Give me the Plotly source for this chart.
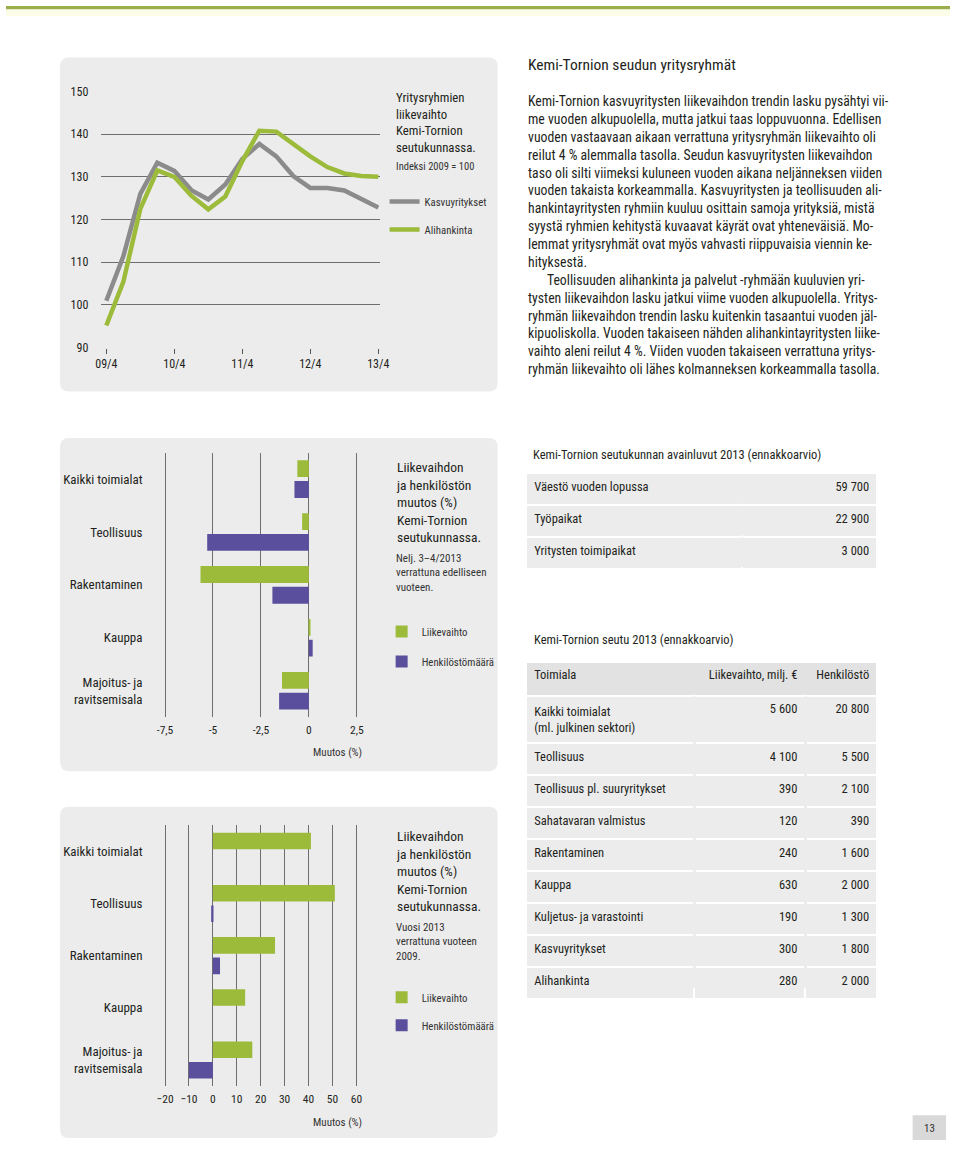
import plotly.graph_objects as go

W, H = 960, 1149

FONT = "Liberation Sans Narrow, Roboto Condensed, DejaVu Sans Condensed, Arial Narrow, Roboto, sans-serif"
TXT = "#231f20"
GREEN = "#9cbb3b"
PURPLE = "#5a4f9c"
GRAY = "#8b8b8b"
PANEL = "#ececec"
HEAD = "#e2e2e2"
GRID = "#6e6e6e"


def X(p):
    return p / W


def Y(p):
    return 1 - p / H


# ---------------- data ----------------
periods = ["09/4", "10/1", "10/2", "10/3", "10/4", "11/1", "11/2", "11/3", "11/4",
           "12/1", "12/2", "12/3", "12/4", "13/1", "13/2", "13/3", "13/4"]
kasvuyritykset = [101.0, 111.4, 126.0, 133.3, 131.4, 126.9, 124.7, 128.2, 134.2,
                  137.7, 134.8, 130.2, 127.4, 127.4, 126.8, 124.7, 122.8]
alihankinta = [95.2, 105.4, 122.5, 131.5, 130.0, 125.6, 122.4, 125.4, 133.7,
               140.8, 140.6, 137.7, 134.8, 132.3, 130.8, 130.2, 130.0]
period_ticks = ["09/4", "10/4", "11/4", "12/4", "13/4"]

sectors = ["Kaikki toimialat", "Teollisuus", "Rakentaminen", "Kauppa",
           "Majoitus- ja<br>ravitsemisala"]
q_liikevaihto = [-0.6, -0.35, -5.65, 0.05, -1.4]
q_henkilosto = [-0.75, -5.3, -1.9, 0.2, -1.55]
q_ticks = [-7.5, -5, -2.5, 0, 2.5]
q_ticktext = ["-7,5", "-5", "-2,5", "0", "2,5"]

v_liikevaihto = [41, 51, 26, 13.5, 16.5]
v_henkilosto = [0, -0.7, 3, 0, -10]
v_ticks = [-20, -10, 0, 10, 20, 30, 40, 50, 60]

key_labels = ["Väestö vuoden lopussa", "Työpaikat", "Yritysten toimipaikat"]
key_values = ["59 700", "22 900", "3 000"]

t2_header = ["Toimiala", "Liikevaihto, milj. €", "Henkilöstö"]
t2_toimiala = ["Kaikki toimialat<br>(ml. julkinen sektori)", "Teollisuus",
               "Teollisuus pl. suuryritykset", "Sahatavaran valmistus", "Rakentaminen",
               "Kauppa", "Kuljetus- ja varastointi", "Kasvuyritykset", "Alihankinta"]
t2_liikevaihto = ["5 600", "4 100", "390", "120", "240", "630", "190", "300", "280"]
t2_henkilosto = ["20 800", "5 500", "2 100", "390", "1 600", "2 000", "1 300", "1 800", "2 000"]

paragraph = [
    "Kemi-Tornion kasvuyritysten liikevaihdon trendin lasku pysähtyi vii-",
    "me vuoden alkupuolella, mutta jatkui taas loppuvuonna. Edellisen",
    "vuoden vastaavaan aikaan verrattuna yritysryhmän liikevaihto oli",
    "reilut 4 % alemmalla tasolla. Seudun kasvuyritysten liikevaihdon",
    "taso oli silti viimeksi kuluneen vuoden aikana neljänneksen viiden",
    "vuoden takaista korkeammalla. Kasvuyritysten ja teollisuuden ali-",
    "hankintayritysten ryhmiin kuuluu osittain samoja yrityksiä, mistä",
    "syystä ryhmien kehitystä kuvaavat käyrät ovat yhteneväisiä. Mo-",
    "lemmat yritysryhmät ovat myös vahvasti riippuvaisia viennin ke-",
    "hityksestä.",
    "\u00a0\u00a0\u00a0\u00a0\u00a0\u00a0Teollisuuden alihankinta ja palvelut -ryhmään kuuluvien yri-",
    "tysten liikevaihdon lasku jatkui viime vuoden alkupuolella. Yritys-",
    "ryhmän liikevaihdon trendin lasku kuitenkin tasaantui vuoden jäl-",
    "kipuoliskolla. Vuoden takaiseen nähden alihankintayritysten liike-",
    "vaihto aleni reilut 4 %. Viiden vuoden takaiseen verrattuna yritys-",
    "ryhmän liikevaihto oli lähes kolmanneksen korkeammalla tasolla.",
]

# ---------------- figure ----------------
fig = go.Figure()

fig.add_trace(go.Scatter(x=periods, y=kasvuyritykset, mode="lines", name="Kasvuyritykset",
                         line=dict(color=GRAY, width=4.5), xaxis="x", yaxis="y",
                         legend="legend", legendgroup="k", hoverinfo="skip"))
fig.add_trace(go.Scatter(x=periods, y=alihankinta, mode="lines", name="Alihankinta",
                         line=dict(color=GREEN, width=4.5), xaxis="x", yaxis="y",
                         legend="legend", legendgroup="a", hoverinfo="skip"))

fig.add_trace(go.Bar(y=sectors, x=q_liikevaihto, orientation="h", name="Liikevaihto",
                     marker=dict(color=GREEN, line=dict(width=0)), xaxis="x2", yaxis="y2",
                     legend="legend2", legendgroup="l2", hoverinfo="skip"))
fig.add_trace(go.Bar(y=sectors, x=q_henkilosto, orientation="h", name="Henkilöstömäärä",
                     marker=dict(color=PURPLE, line=dict(width=0)), xaxis="x2", yaxis="y2",
                     legend="legend2", legendgroup="h2", hoverinfo="skip"))

fig.add_trace(go.Bar(y=sectors, x=v_liikevaihto, orientation="h", name="Liikevaihto",
                     marker=dict(color=GREEN, line=dict(width=0)), xaxis="x3", yaxis="y3",
                     legend="legend3", legendgroup="l3", hoverinfo="skip"))
fig.add_trace(go.Bar(y=sectors, x=v_henkilosto, orientation="h", name="Henkilöstömäärä",
                     marker=dict(color=PURPLE, line=dict(width=0)), xaxis="x3", yaxis="y3",
                     legend="legend3", legendgroup="h3", hoverinfo="skip"))

cell_font = dict(family=FONT, size=12.5, color=TXT)
T1_TOP, T1_X0, T1_X1 = 472.5, 529, 886
T1_COLS = [220, 137]
ROW_H = 32
fig.add_trace(go.Table(
    domain=dict(x=[X(T1_X0), X(T1_X1)], y=[Y(620), Y(T1_TOP)]),
    columnwidth=T1_COLS,
    header=dict(values=[key_labels[0], key_values[0]], fill_color=PANEL,
                line=dict(color="white", width=2), align=["left", "right"],
                font=cell_font, height=ROW_H),
    cells=dict(values=[key_labels[1:], key_values[1:]], fill_color=PANEL,
               line=dict(color="white", width=2), align=["left", "right"],
               font=cell_font, height=ROW_H),
))
T2_TOP = 663.5
T2_COLS = [171, 113, 73]
fig.add_trace(go.Table(
    domain=dict(x=[X(T1_X0), X(T1_X1)], y=[Y(1060), Y(T2_TOP)]),
    columnwidth=T2_COLS,
    header=dict(values=t2_header, fill_color=HEAD,
                line=dict(color="white", width=2), align=["left", "right", "right"],
                font=cell_font, height=34),
    cells=dict(values=[t2_toimiala, t2_liikevaihto, t2_henkilosto], fill_color=PANEL,
               line=dict(color="white", width=2), align=["left", "right", "right"],
               font=cell_font, height=ROW_H),
))


def rrect(x0, y0, x1, y1, r=9):
    p = (f"M{X(x0+r)},{Y(y0)} L{X(x1-r)},{Y(y0)} Q{X(x1)},{Y(y0)} {X(x1)},{Y(y0+r)} "
         f"L{X(x1)},{Y(y1-r)} Q{X(x1)},{Y(y1)} {X(x1-r)},{Y(y1)} "
         f"L{X(x0+r)},{Y(y1)} Q{X(x0)},{Y(y1)} {X(x0)},{Y(y1-r)} "
         f"L{X(x0)},{Y(y0+r)} Q{X(x0)},{Y(y0)} {X(x0+r)},{Y(y0)} Z")
    return dict(type="path", xref="paper", yref="paper", path=p, fillcolor=PANEL,
                line=dict(width=0), layer="below")


def cover(xc, y0, y1, color):
    # hides the white column separators of the tables (the reference has row gaps only)
    return dict(type="rect", xref="paper", yref="paper", x0=X(xc - 1.6), x1=X(xc + 1.6),
                y0=Y(y1), y1=Y(y0), fillcolor=color, line=dict(width=0), layer="above")


t1_split = T1_X0 + (T1_X1 - T1_X0) * T1_COLS[0] / sum(T1_COLS)
t2_w = T1_X1 - T1_X0
t2_split1 = T1_X0 + t2_w * T2_COLS[0] / sum(T2_COLS)
t2_split2 = T1_X0 + t2_w * (T2_COLS[0] + T2_COLS[1]) / sum(T2_COLS)

shapes = [
    rrect(55, 52, 500, 390),
    rrect(55, 437, 500, 774),
    rrect(55, 810, 500, 1145),
    dict(type="rect", xref="paper", yref="paper", x0=0, x1=1, y0=Y(3.5), y1=Y(0),
         fillcolor="#9aae4b", line=dict(width=0), layer="below"),
    dict(type="rect", xref="paper", yref="paper", x0=0, x1=1, y0=Y(10), y1=Y(3.5),
         fillcolor="#fbfde8", line=dict(width=0), layer="below"),
    dict(type="rect", xref="paper", yref="paper", x0=X(922), x1=X(956), y0=Y(1147), y1=Y(1122),
         fillcolor="#d9d9d9", line=dict(width=0), layer="below"),
    cover(t2_split1, T2_TOP + 1, T2_TOP + 33, HEAD),
    cover(t2_split2, T2_TOP + 1, T2_TOP + 33, HEAD),
    cover(t2_split1, T2_TOP + 35, 993, PANEL),
    cover(t2_split2, T2_TOP + 35, 993, PANEL),
]
for i in range(len(key_labels)):
    top = T1_TOP + i * ROW_H
    shapes.append(cover(t1_split, top + 1, top + ROW_H - 1, PANEL))


def ann(text, x, y, size, xanchor="left", yanchor="middle", color=TXT, align="left"):
    return dict(text=text, x=X(x), y=Y(y), xref="paper", yref="paper", showarrow=False,
                xanchor=xanchor, yanchor=yanchor, align=align,
                font=dict(family=FONT, size=size, color=color))


annotations = [
    ann("Yritysryhmien<br>liikevaihto<br>Kemi-Tornion<br>seutukunnassa.", 395, 117.8, 12.8),
    ann("Indeksi 2009 = 100", 395, 162.3, 10.5, color="#333"),
    ann("Kemi-Tornion seudun yritysryhmät", 529, 60, 15.5),
    ann("<br>".join(paragraph), 529, 231.5, 13.75),
    ann("Liikevaihdon<br>ja henkilöstön<br>muutos (%)<br>Kemi-Tornion<br>seutukunnassa.",
        395, 502, 13.5),
    ann("Nelj. 3–4/2013<br>verrattuna edelliseen<br>vuoteen.", 395, 573.8, 11, color="#333"),
    ann("Muutos (%)", 336.7, 755, 11, xanchor="center", color="#333"),
    ann("Liikevaihdon<br>ja henkilöstön<br>muutos (%)<br>Kemi-Tornion<br>seutukunnassa.",
        395, 875, 13.5),
    ann("Vuosi 2013<br>verrattuna vuoteen<br>2009.", 395, 946.7, 11, color="#333"),
    ann("Muutos (%)", 336.7, 1129.3, 11, xanchor="center", color="#333"),
    ann("Kemi-Tornion seutukunnan avainluvut 2013 (ennakkoarvio)", 534, 453.3, 12.5),
    ann("Kemi-Tornion seutu 2013 (ennakkoarvio)", 535, 640.7, 12.5),
    ann("13", 939, 1135, 11, xanchor="center", color="#333"),
]

tickfont = dict(family=FONT, size=12, color=TXT)
legfont = dict(family=FONT, size=10.8, color="#333")

fig.update_layout(
    width=W, height=H, margin=dict(l=0, r=0, t=0, b=0),
    paper_bgcolor="white", plot_bgcolor="rgba(0,0,0,0)",
    font=dict(family=FONT, color=TXT),
    barmode="group", bargap=0.215, bargroupgap=0.19,
    hovermode=False,
    shapes=shapes, annotations=annotations,
    xaxis=dict(domain=[X(97), X(380)], anchor="y", type="category", range=[-0.29, 16.08],
               tickmode="array", tickvals=period_ticks, ticktext=period_ticks,
               ticks="outside", ticklen=5, tickcolor="#555", showgrid=False,
               showline=False, zeroline=False, tickfont=tickfont, fixedrange=True),
    yaxis=dict(domain=[Y(346), Y(86)], anchor="x", range=[89.9, 150.1], tick0=90, dtick=10,
               showgrid=True, gridcolor=GRID, gridwidth=1, zeroline=False, ticks="",
               tickfont=tickfont, ticklabelstandoff=12, fixedrange=True),
    xaxis2=dict(domain=[X(150), X(370)], anchor="y2", range=[-8.10, 3.18],
                tickmode="array", tickvals=q_ticks, ticktext=q_ticktext,
                showgrid=True, gridcolor=GRID, gridwidth=1, zeroline=False, ticks="",
                tickfont=dict(family=FONT, size=11.5, color=TXT), ticklabelstandoff=4,
                fixedrange=True),
    yaxis2=dict(domain=[Y(719.25), Y(451.75)], anchor="x2", type="category",
                autorange="reversed", showgrid=False, zeroline=False, ticks="",
                tickfont=dict(family=FONT, size=13, color=TXT), ticklabelstandoff=10,
                fixedrange=True),
    xaxis3=dict(domain=[X(150), X(370)], anchor="y3", range=[-24.81, 65.63],
                tickmode="array", tickvals=v_ticks,
                showgrid=True, gridcolor=GRID, gridwidth=1, zeroline=False, ticks="",
                tickfont=dict(family=FONT, size=11.5, color=TXT), ticklabelstandoff=4,
                fixedrange=True),
    yaxis3=dict(domain=[Y(1092.4), Y(828.6)], anchor="x3", type="category",
                autorange="reversed", showgrid=False, zeroline=False, ticks="",
                tickfont=dict(family=FONT, size=13, color=TXT), ticklabelstandoff=10,
                fixedrange=True),
    legend=dict(x=X(385), y=Y(183), xanchor="left", yanchor="top", bgcolor="rgba(0,0,0,0)",
                font=legfont, tracegroupgap=9, itemclick=False, itemdoubleclick=False),
    legend2=dict(x=X(382), y=Y(618), xanchor="left", yanchor="top", bgcolor="rgba(0,0,0,0)",
                 font=legfont, tracegroupgap=11, itemclick=False, itemdoubleclick=False),
    legend3=dict(x=X(382), y=Y(988), xanchor="left", yanchor="top", bgcolor="rgba(0,0,0,0)",
                 font=legfont, tracegroupgap=9, itemclick=False, itemdoubleclick=False),
)

fig.write_html("out.html", config={"displayModeBar": False},
               post_script="document.body.style.margin='0';document.body.style.overflow='hidden';")
